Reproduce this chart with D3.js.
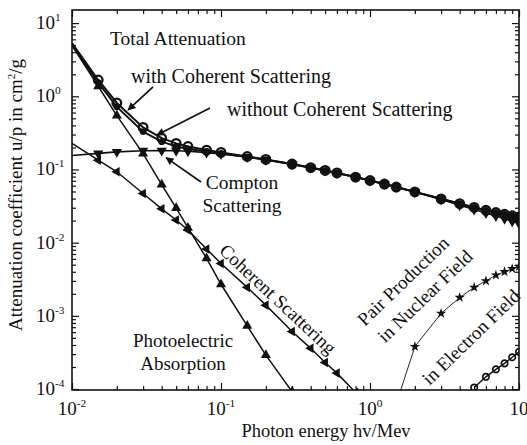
<!DOCTYPE html>
<html><head><meta charset="utf-8">
<script src="https://cdn.jsdelivr.net/npm/d3@7"></script>
<style>
body{margin:0;background:#fff;}
svg{display:block;}
text{font-family:"Liberation Serif","Times New Roman",serif;fill:#111;}
</style>
</head><body>
<svg id="chart" width="527" height="445"></svg>
<script>
// ---------------- data (photon energy in MeV, mass attenuation in cm^2/g) ----------------
const totalEnergy = [0.01,0.015,0.02,0.03,0.04,0.05,0.06,0.08,0.1,0.15,0.2,0.3,0.4,0.5,0.6,0.8,1,1.25,1.5,2,3,4,5,6,7,8,9,10];
const totalWithCoherent = [5.33,1.67,0.81,0.376,0.268,0.227,0.206,0.184,0.171,0.1505,0.137,0.1186,0.1061,0.0969,0.0896,0.0787,0.0707,0.0632,0.0575,0.0494,0.0397,0.0341,0.0303,0.0277,0.0258,0.0244,0.0233,0.0224];
const totalWithoutCoherent = [5.10,1.54,0.717,0.329,0.240,0.207,0.191,0.176,0.1655,0.148,0.1356,0.118,0.1057,0.0967,0.0894,0.0786,0.0706,0.0632,0.0575,0.0494,0.0397,0.0341,0.0303,0.0277,0.0258,0.0244,0.0233,0.0224];
const comptonEnergy = [0.01,0.015,0.02,0.03,0.04,0.05,0.06,0.08,0.1,0.15,0.2,0.3,0.4,0.5,0.6,0.8,1,1.25,1.5,2,3,4,5,6,7,8,9,10];
const compton = [0.155,0.166,0.174,0.180,0.181,0.180,0.177,0.170,0.163,0.148,0.1357,0.118,0.1058,0.0967,0.0894,0.0786,0.0706,0.0631,0.0574,0.0491,0.0389,0.0325,0.0284,0.0254,0.0231,0.0212,0.0196,0.0183];
const coherentEnergy = [0.01,0.015,0.02,0.03,0.04,0.05,0.06,0.08,0.1,0.15,0.2,0.3,0.4,0.5,0.6,0.8];
const coherent = [0.228,0.134,0.093,0.047,0.029,0.0204,0.0149,0.0082,0.0052,0.00245,0.0014,0.00061,0.00036,0.00023,0.000165,0.00009];
const photoEnergy = [0.01,0.015,0.02,0.03,0.04,0.05,0.06,0.08,0.1,0.15,0.2,0.3];
const photoelectric = [4.94,1.37,0.545,0.165,0.062,0.0297,0.016,0.0061,0.0027,0.00073,0.00029,0.000092];
const pairNuclearEnergy = [1.25,2,3,4,5,6,7,8,9,10];
const pairNuclear = [0.00002,0.00038,0.00108,0.00178,0.00245,0.0030,0.0036,0.0040,0.0044,0.0047];
const pairElectronEnergy = [5,6,7,8,9,10];
const pairElectron = [0.000105,0.000147,0.000186,0.000224,0.000272,0.000323];

const xMajorTicks = [0.01,0.1,1,10];
const xTickLabels = [["10","-2"],["10","-1"],["10","0"],["10",""]];
const yMajorTicks = [10,1,0.1,0.01,0.001,0.0001];
const yTickLabels = [["10","1"],["10","0"],["10","-1"],["10","-2"],["10","-3"],["10","-4"]];

// ---------------- layout ----------------
const svg = d3.select("#chart");
const L = 72, R = 519, T = 10, B = 390;
const x = d3.scaleLog().domain([0.01, 10]).range([L, R]);
const y = d3.scaleLog().domain([9.7e-5, 15.1]).range([B, T]);

const defs = svg.append("defs");
defs.append("clipPath").attr("id","plotclip")
  .append("rect").attr("x",L).attr("y",T).attr("width",R-L).attr("height",B-T);
defs.append("marker").attr("id","ah")
  .attr("viewBox","0 0 10 10").attr("refX",9).attr("refY",5)
  .attr("markerWidth",10).attr("markerHeight",8).attr("markerUnits","userSpaceOnUse")
  .attr("orient","auto")
  .append("path").attr("d","M0,0 L10,5 L0,10 Z").attr("fill","#111");

function minors(lo, hi){
  const out=[];
  for(let e=lo;e<hi;e++){ for(let m=2;m<=9;m++) out.push(m*Math.pow(10,e)); }
  return out;
}
const xMinor = minors(-2,1);
const yMinor = minors(-4,1);

function styleAxis(g){
  g.select(".domain").remove();
  g.selectAll(".tick line").attr("stroke","#111").attr("stroke-width",1.2);
  g.selectAll(".tick text").remove();
}
svg.append("g").attr("transform",`translate(0,${B})`).call(d3.axisBottom(x).tickValues(xMajorTicks).tickSize(-7)).call(styleAxis);
svg.append("g").attr("transform",`translate(0,${B})`).call(d3.axisBottom(x).tickValues(xMinor).tickSize(-4)).call(styleAxis);
svg.append("g").attr("transform",`translate(0,${T})`).call(d3.axisTop(x).tickValues(xMajorTicks).tickSize(-7)).call(styleAxis);
svg.append("g").attr("transform",`translate(0,${T})`).call(d3.axisTop(x).tickValues(xMinor).tickSize(-4)).call(styleAxis);
svg.append("g").attr("transform",`translate(${L},0)`).call(d3.axisLeft(y).tickValues(yMajorTicks).tickSize(-7)).call(styleAxis);
svg.append("g").attr("transform",`translate(${L},0)`).call(d3.axisLeft(y).tickValues(yMinor).tickSize(-4)).call(styleAxis);
svg.append("g").attr("transform",`translate(${R},0)`).call(d3.axisRight(y).tickValues(yMajorTicks).tickSize(-7)).call(styleAxis);
svg.append("g").attr("transform",`translate(${R},0)`).call(d3.axisRight(y).tickValues(yMinor).tickSize(-4)).call(styleAxis);

svg.append("rect").attr("x",L).attr("y",T).attr("width",R-L).attr("height",B-T)
  .attr("fill","none").attr("stroke","#111").attr("stroke-width",1.6);

// tick labels
const tfs = 19;
function supLabel(sel, parts){
  sel.append("tspan").text(parts[0]);
  if(parts[1]) sel.append("tspan").attr("font-size",tfs*0.6).attr("dy",-tfs*0.42).text(parts[1]);
}
xMajorTicks.forEach((v,i)=>{
  const t = svg.append("text").attr("x",x(v)).attr("y",B+25).attr("text-anchor","middle").attr("font-size",tfs);
  supLabel(t, xTickLabels[i]);
});
yMajorTicks.forEach((v,i)=>{
  const t = svg.append("text").attr("x",36).attr("y",y(v)+6).attr("text-anchor","start").attr("font-size",tfs);
  supLabel(t, yTickLabels[i]);
});

// axis titles
svg.append("text").attr("x",326).attr("y",437).attr("text-anchor","middle").attr("font-size",18.5)
  .text("Photon energy hv/Mev");
const yt = svg.append("text").attr("transform","translate(22,195) rotate(-90)").attr("text-anchor","middle").attr("font-size",19);
yt.append("tspan").text("Attenuation coefficient u/p in cm");
yt.append("tspan").attr("font-size",11).attr("dy",-7).text("2");
yt.append("tspan").attr("dy",7).text("/g");

// ---------------- series ----------------
const plot = svg.append("g").attr("clip-path","url(#plotclip)");
const line = d3.line().x(d=>x(d[0])).y(d=>y(d[1]));
const zip = (a,b)=>a.map((e,i)=>[e,b[i]]);

const series = [
  {pts:zip(totalEnergy,totalWithoutCoherent), w:2, sym:d3.symbolCircle, size:36, fill:"#111", stroke:"none", rot:0},
  {pts:zip(totalEnergy,totalWithCoherent), w:2, sym:d3.symbolCircle, size:58, fill:"none", stroke:"#111", rot:0, sw:2.3},
  {pts:zip(comptonEnergy,compton), w:1.6, sym:d3.symbolTriangle, size:46, fill:"#111", stroke:"none", rot:180},
  {pts:zip(coherentEnergy,coherent), w:1.5, sym:d3.symbolTriangle, size:40, fill:"#111", stroke:"none", rot:-90},
  {pts:zip(photoEnergy,photoelectric), w:1.5, sym:d3.symbolTriangle, size:44, fill:"#111", stroke:"none", rot:0},
  {pts:zip(pairNuclearEnergy,pairNuclear), w:0.9, sym:d3.symbolStar, size:34, fill:"#111", stroke:"none", rot:0},
  {pts:zip(pairElectronEnergy,pairElectron), w:1.5, sym:d3.symbolCircle, size:32, fill:"none", stroke:"#111", rot:0, sw:1.7}
];
series.forEach(s=>{
  plot.append("path").datum(s.pts).attr("d",line).attr("fill","none").attr("stroke","#111").attr("stroke-width",s.w);
});
series.forEach(s=>{
  plot.selectAll(null).data(s.pts.filter(d=>d[0]>0.01)).enter().append("path")
    .attr("d",d3.symbol().type(s.sym).size(s.size))
    .attr("transform",d=>`translate(${x(d[0])},${y(d[1])}) rotate(${s.rot})`)
    .attr("fill",s.fill).attr("stroke",s.stroke).attr("stroke-width",s.sw||0);
});

// ---------------- annotations ----------------
const arrows = [
  {from:[0.035,1.34], to:[0.0238,0.65]},
  {from:[0.0844,0.692], to:[0.0372,0.296]},
  {from:[0.0734,0.0675], to:[0.0428,0.145]}
];
arrows.forEach(a=>{
  svg.append("line").attr("x1",x(a.from[0])).attr("y1",y(a.from[1]))
    .attr("x2",x(a.to[0])).attr("y2",y(a.to[1]))
    .attr("stroke","#111").attr("stroke-width",1.7).attr("marker-end","url(#ah)");
});

function label(txt, px, py, fs, anchor, rot){
  const t = svg.append("text").attr("font-size",fs).attr("text-anchor",anchor||"start");
  if(rot){ t.attr("transform",`translate(${px},${py}) rotate(${rot})`).attr("dominant-baseline","central"); }
  else { t.attr("x",px).attr("y",py); }
  t.text(txt);
}
label("Total Attenuation",110,45,19.5);
label("with Coherent Scattering",131,83,20);
label("without Coherent Scattering",227,116,20);
label("Compton",242,189,19.5,"middle");
label("Scattering",242,212,19.5,"middle");
label("Photoelectric",183,347,19,"middle");
label("Absorption",183,370,19,"middle");
label("Coherent Scattering",278,299,19,"middle",43);
label("Pair Production",403,281,19,"middle",-44);
label("in Nuclear Field",425,296,19,"middle",-44);
label("in Electron Field",471,337,19,"middle",-44);
</script>
</body></html>
